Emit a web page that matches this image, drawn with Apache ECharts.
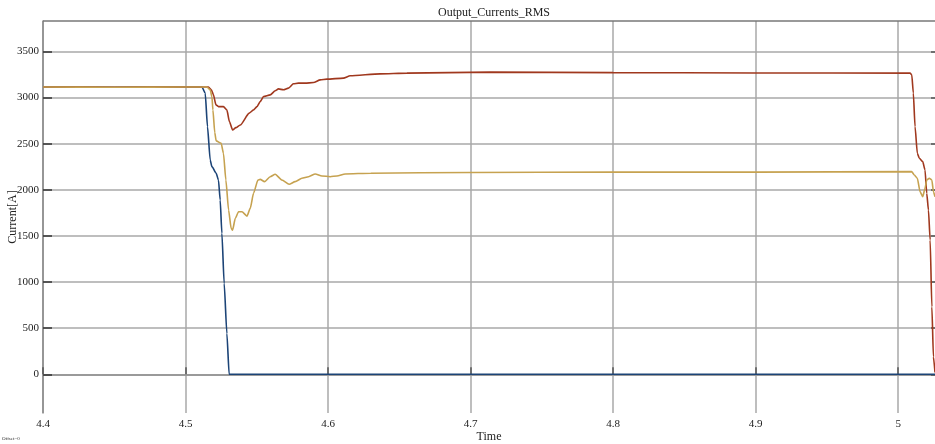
<!DOCTYPE html>
<html>
<head>
<meta charset="utf-8">
<script src="https://cdn.jsdelivr.net/npm/echarts@6/dist/echarts.min.js"></script>
<style>html,body{margin:0;padding:0;background:#fff}#c{width:935px;height:444px}</style>
</head>
<body>
<div id="c"></div>
<script>
var titleText = "Output_Currents_RMS";
var xName = "Time";
var yName = "Current[A]";
var xTicks = [4.4, 4.5, 4.6, 4.7, 4.8, 4.9, 5.0];
var yTicks = [0, 500, 1000, 1500, 2000, 2500, 3000, 3500];

var blueT = [4.4, 4.45, 4.5, 4.5115, 4.5138, 4.5154, 4.5173, 4.5185, 4.5215, 4.5231, 4.5243, 4.5255, 4.5271, 4.529, 4.5306, 4.8, 5.0258];
var blueI = [3115, 3112, 3115, 3115, 3048, 2685, 2323, 2251, 2179, 2106, 1889, 1528, 985, 442, 0, 0, 0];

var goldT = [4.4, 4.45, 4.5, 4.515, 4.5173, 4.5185, 4.5192, 4.5205, 4.5215, 4.525, 4.5266, 4.5283, 4.5302, 4.532, 4.533, 4.5349, 4.5372, 4.5396, 4.5431, 4.5454, 4.5477, 4.5508, 4.5524, 4.5554, 4.5594, 4.5629, 4.5676, 4.5727, 4.5769, 4.5816, 4.5863, 4.591, 4.5957, 4.6015, 4.6062, 4.612, 4.63, 4.7, 4.8, 4.9, 5.0094, 5.0113, 5.0134, 5.0153, 5.0172, 5.0188, 5.02, 5.0218, 5.0236, 5.0247, 5.0258];
var goldI = [3115, 3112, 3115, 3115, 3083, 3011, 2866, 2620, 2530, 2504, 2396, 2106, 1781, 1582, 1563, 1690, 1762, 1762, 1715, 1799, 1962, 2106, 2113, 2088, 2142, 2168, 2106, 2060, 2088, 2125, 2142, 2172, 2150, 2142, 2150, 2172, 2180, 2188, 2192, 2192, 2197, 2161, 2125, 1980, 1925, 2016, 2106, 2125, 2106, 1980, 1925];

var redT = [4.4, 4.45, 4.5, 4.5161, 4.5181, 4.5196, 4.5213, 4.5231, 4.5266, 4.529, 4.5308, 4.533, 4.5353, 4.5384, 4.5447, 4.5477, 4.5501, 4.5524, 4.5547, 4.5594, 4.5629, 4.5652, 4.5687, 4.5722, 4.5757, 4.5792, 4.5839, 4.5898, 4.5945, 4.5992, 4.6108, 4.6155, 4.6365, 4.6553, 4.7137, 4.8, 4.9, 5.0083, 5.0095, 5.0106, 5.0118, 5.0134, 5.0148, 5.0172, 5.0188, 5.02, 5.0212, 5.0224, 5.0236, 5.0247, 5.0258];
var redI = [3115, 3112, 3115, 3115, 3084, 3029, 2921, 2902, 2902, 2866, 2739, 2649, 2674, 2703, 2831, 2866, 2902, 2957, 3011, 3029, 3073, 3094, 3084, 3102, 3149, 3156, 3156, 3163, 3192, 3200, 3211, 3236, 3257, 3265, 3276, 3270, 3267, 3265, 3247, 3048, 2685, 2396, 2342, 2305, 2215, 1962, 1781, 1455, 731, 188, 20];

function zip(a, b) { return a.map(function (v, i) { return [v, b[i]]; }); }

var FONT = "Liberation Serif";
var chart = echarts.init(document.getElementById('c'), null, { renderer: 'canvas' });

function mkSeries(name, t, v, color) {
  return {
    name: name, type: 'line', data: zip(t, v), showSymbol: false, symbol: 'none',
    smooth: 0.2, smoothMonotone: 'x',
    lineStyle: { color: color, width: 1.6 }, itemStyle: { color: color },
    animation: false, z: 3
  };
}

chart.setOption({
  animation: false,
  title: {
    text: titleText, left: 489, top: 2, textAlign: 'center',
    textStyle: { fontFamily: FONT, fontSize: 12, fontWeight: 'normal', color: '#222' }
  },
  grid: { left: 43, right: 0, top: 21, bottom: 31, containLabel: false, outerBoundsMode: 'none' },
  xAxis: {
    type: 'value', min: 4.4, max: 5.0258,
    name: xName, nameLocation: 'middle', nameGap: 18, nameMoveOverlap: false,
    nameTextStyle: { fontFamily: FONT, fontSize: 12, color: '#222' },
    axisLine: { show: true, lineStyle: { color: '#9a9a9a', width: 2 } },
    axisTick: { show: true, inside: true, length: 7, customValues: xTicks, lineStyle: { color: '#555', width: 1.5 } },
    axisLabel: {
      customValues: xTicks, margin: 6, color: '#222', fontFamily: FONT, fontSize: 11,
      formatter: function (v) { return String(Math.round(v * 10) / 10); }
    },
    splitLine: { show: true, lineStyle: { color: '#a8a8a8', width: 1.5 } }
  },
  yAxis: [{
    type: 'value', min: -420, max: 3830,
    name: yName, nameLocation: 'middle', nameGap: 24, nameRotate: 90, nameMoveOverlap: false,
    nameTextStyle: { fontFamily: FONT, fontSize: 12, color: '#222' },
    axisLine: { show: true, lineStyle: { color: '#8a8a8a', width: 1.5 } },
    axisTick: { show: true, inside: true, length: 9, customValues: yTicks, lineStyle: { color: '#333', width: 1.5 } },
    axisLabel: {
      customValues: yTicks, margin: 4, color: '#222', fontFamily: FONT, fontSize: 11,
      formatter: function (v) { return String(Math.round(v)); }
    },
    splitLine: { show: true, lineStyle: { color: '#a8a8a8', width: 1.5 } }
  }, {
    type: 'value', min: -420, max: 3830, position: 'right',
    axisLine: { show: false },
    axisTick: { show: true, inside: true, length: 4, customValues: yTicks, lineStyle: { color: '#555', width: 1.5 } },
    axisLabel: { show: false },
    splitLine: { show: false }
  }],
  graphic: [
    { type: 'line', shape: { x1: 43, y1: 21, x2: 935, y2: 21 }, style: { stroke: '#777', lineWidth: 1.5 }, z: 10 },
    { type: 'text', left: 2, top: 436, style: { text: 'Offset=0', fontSize: 5, fill: '#333', fontFamily: FONT } }
  ],
  series: [
    mkSeries('Ia', blueT, blueI, '#1c4477'),
    mkSeries('Ib', redT, redI, '#a0381e'),
    mkSeries('Ic', goldT, goldI, '#c6a250')
  ]
});
</script>
</body>
</html>
